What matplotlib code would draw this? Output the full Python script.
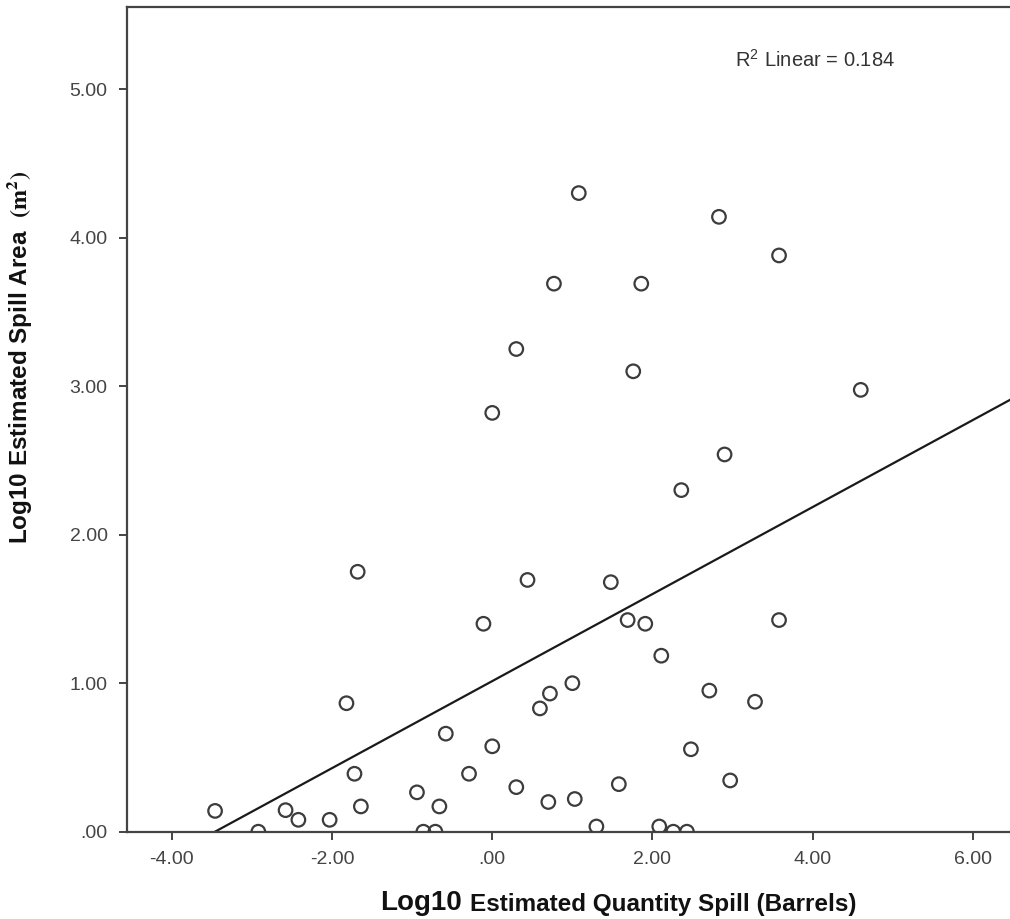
import matplotlib
matplotlib.use("Agg")
import matplotlib.pyplot as plt
import numpy as np

plt.rcParams['font.family'] = ['Liberation Sans', 'DejaVu Sans']
plt.rcParams['mathtext.fontset'] = 'stix'

# log10 quantity spilled (barrels) vs log10 spill area (m2)
log_quantity = [-3.46, -2.92, -2.58, -2.42, -2.03, -1.82, -1.72, -1.68, -1.64, -0.94,
                -0.86, -0.71, -0.66, -0.58, -0.29, -0.11, 0.00, 0.00, 0.30, 0.30,
                0.44, 0.595, 0.70, 0.72, 0.77, 1.00, 1.03, 1.08, 1.30, 1.48,
                1.58, 1.69, 1.76, 1.86, 1.91, 2.085, 2.11, 2.26, 2.36, 2.43,
                2.48, 2.71, 2.83, 2.90, 2.97, 3.28, 3.58, 3.58, 4.60]
log_area = [0.14, 0.00, 0.145, 0.08, 0.08, 0.865, 0.39, 1.75, 0.17, 0.265,
            0.00, 0.00, 0.17, 0.66, 0.39, 1.40, 2.82, 0.575, 3.25, 0.30,
            1.695, 0.83, 0.20, 0.93, 3.69, 1.00, 0.22, 4.30, 0.035, 1.68,
            0.32, 1.425, 3.10, 3.69, 1.40, 0.035, 1.185, 0.00, 2.30, 0.00,
            0.555, 0.95, 4.14, 2.54, 0.345, 0.875, 3.88, 1.425, 2.975]

# fitted linear line (intercept, slope) and its R squared
fit_intercept = 1.014
fit_slope = 0.293
r_squared = 0.184

x_ticks = [-4, -2, 0, 2, 4, 6]
x_tick_labels = ['-4.00', '-2.00', '.00', '2.00', '4.00', '6.00']
y_ticks = [0, 1, 2, 3, 4, 5]
y_tick_labels = ['.00', '1.00', '2.00', '3.00', '4.00', '5.00']

fig = plt.figure(figsize=(10.10, 9.19), dpi=100)
ax = fig.add_axes([0.1257, 0.095, 0.8743, 0.8974])

ax.set_xlim(-4.56, 6.463)
ax.set_ylim(0, 5.553)

ax.scatter(log_quantity, log_area, s=95, facecolors='none', edgecolors='#3c3c3c',
           linewidths=1.6, zorder=3)

xs = np.array(ax.get_xlim())
ax.plot(xs, fit_intercept + fit_slope * xs, color='#1a1a1a', lw=1.6, zorder=2)

ax.text(0.779, 0.936, r'R$^{\mathregular{2}}$ Linear = %.3f' % r_squared,
        transform=ax.transAxes, ha='center', va='center', fontsize=14.5,
        color='#333333')

ax.set_xticks(x_ticks)
ax.set_xticklabels(x_tick_labels)
ax.set_yticks(y_ticks)
ax.set_yticklabels(y_tick_labels)
ax.tick_params(direction='out', length=6, width=1.4, colors='#444444',
               labelsize=14, pad=8)

for side in ['left', 'bottom', 'top']:
    ax.spines[side].set_color('#444444')
    ax.spines[side].set_linewidth(1.6)
ax.spines['right'].set_visible(False)

# axis titles placed by hand, SPSS style
fig.text(20 / 1010, 1 - 357 / 919, r'Log10 Estimated Spill Area  $\mathbf{(m^2)}$',
         rotation=90, ha='center', va='center', fontsize=17.5, fontweight='bold',
         color='#111111')
fig.text(380 / 1010, 1 - 903 / 919, 'Log10', ha='left', va='center',
         fontsize=20, fontweight='bold', color='#111111')
fig.text(470 / 1010, 1 - 905 / 919, 'Estimated Quantity Spill (Barrels)',
         ha='left', va='center', fontsize=17.5, fontweight='bold', color='#111111')

fig.savefig('out.png', dpi=100)
